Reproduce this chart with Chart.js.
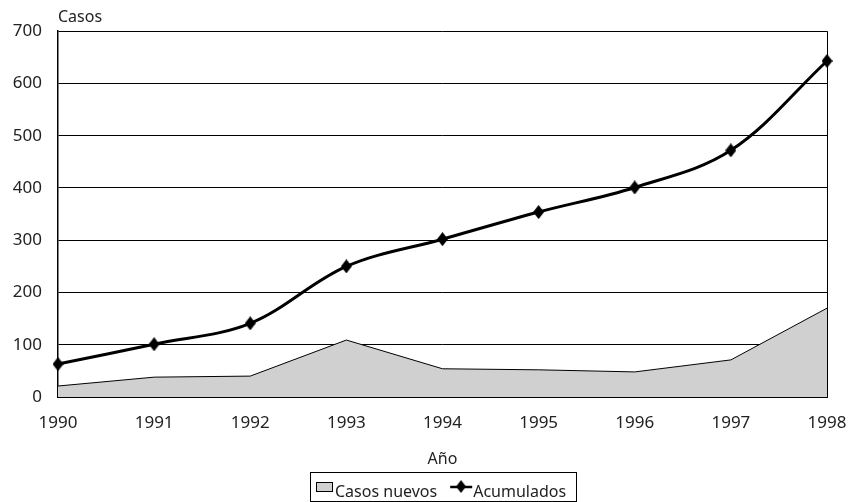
<!DOCTYPE html>
<html><head><meta charset="utf-8">
<script src="https://cdn.jsdelivr.net/npm/chart.js@4/dist/chart.umd.min.js"></script>
<style>html,body{margin:0;padding:0;background:#fff}#wrap{width:849px;height:502px}</style>
</head><body><div id="wrap"><canvas id="c" width="849" height="502"></canvas></div>
<script>
// ---- data ----
const years = ['1990','1991','1992','1993','1994','1995','1996','1997','1998'];
const casosNuevos = [21, 38, 40, 109, 54, 52, 48, 71, 170];
const acumulados = [63, 101, 141, 250, 302, 354, 401, 472, 643];
const yTickValues = [0, 100, 200, 300, 400, 500, 600, 700];
const seriesNames = ['Casos nuevos', 'Acumulados'];
const yAxisName = 'Casos';
const xAxisName = 'Año';

const FONT = '"Noto Sans", "Open Sans", sans-serif';
const TXT = '#222';

function diamond(w, h) {
  const c = document.createElement('canvas');
  c.width = w; c.height = h;
  const g = c.getContext('2d');
  g.fillStyle = '#000';
  g.beginPath();
  g.moveTo(w / 2, 0); g.lineTo(w, h / 2); g.lineTo(w / 2, h); g.lineTo(0, h / 2);
  g.closePath(); g.fill();
  return c;
}
const diamondImg = diamond(11, 14);

const boxLegend = {
  id: 'boxLegend',
  afterDraw(chart) {
    const ctx = chart.ctx, ca = chart.chartArea;
    const ds = chart.data.datasets;
    ctx.save();
    ctx.font = '16px ' + FONT;
    const w0 = ctx.measureText(ds[0].label).width;
    const w1 = ctx.measureText(ds[1].label).width;
    const padL = 6, sw = 17, g1 = 2, gap = 13, lw = 22, g2 = 1, padR = 10;
    const total = Math.round(padL + sw + g1 + w0 + gap + lw + g2 + w1 + padR);
    const x0 = Math.round((ca.left + ca.right) / 2 - total / 2);
    const top = 472, h = 29;
    ctx.strokeStyle = '#000';
    ctx.lineWidth = 1;
    ctx.strokeRect(x0 + 0.5, top + 0.5, total, h);
    let x = x0 + padL;
    ctx.fillStyle = ds[0].backgroundColor;
    ctx.fillRect(x, 482, sw, 10);
    ctx.strokeRect(x + 0.5, 482.5, sw - 1, 9);
    x += sw + g1;
    ctx.fillStyle = TXT;
    ctx.textBaseline = 'alphabetic';
    ctx.textAlign = 'left';
    ctx.fillText(ds[0].label, x, 497);
    x += w0 + gap;
    ctx.lineWidth = 2.5;
    ctx.beginPath();
    ctx.moveTo(x, 487); ctx.lineTo(x + lw, 487);
    ctx.stroke();
    ctx.drawImage(diamondImg, Math.round(x + lw / 2 - 5), 480, 10, 13);
    x += lw + g2;
    ctx.fillStyle = TXT;
    ctx.fillText(ds[1].label, x, 497);
    ctx.restore();
  }
};

new Chart(document.getElementById('c'), {
  type: 'line',
  data: {
    labels: years,
    datasets: [
      {
        label: seriesNames[0],
        data: casosNuevos,
        fill: 'origin',
        backgroundColor: '#d0d0d0',
        borderColor: '#000',
        borderWidth: 1,
        pointRadius: 0,
        tension: 0,
        order: 2
      },
      {
        label: seriesNames[1],
        data: acumulados,
        fill: false,
        borderColor: '#000',
        borderWidth: 3,
        pointStyle: diamondImg,
        pointRadius: 6,
        tension: 0.35,
        order: 1
      }
    ]
  },
  options: {
    responsive: false,
    animation: false,
    devicePixelRatio: 1,
    layout: { padding: { left: 0, right: 22, top: 0, bottom: 0 } },
    plugins: {
      legend: { display: false },
      tooltip: { enabled: false },
      title: {
        display: true,
        text: yAxisName,
        align: 'start',
        fullSize: false,
        color: TXT,
        font: { family: FONT, size: 16, weight: 'normal' },
        padding: { top: 8, bottom: 4 }
      }
    },
    scales: {
      x: {
        type: 'category',
        offset: false,
        grid: {
          drawTicks: false,
          color: (c) => (c.index === years.length - 1 ? '#000' : 'rgba(0,0,0,0)'),
          lineWidth: 1
        },
        border: { display: true, color: '#000', width: 2 },
        ticks: {
          color: TXT,
          font: { family: FONT, size: 17 },
          padding: 16,
          maxRotation: 0,
          autoSkip: false
        },
        title: {
          display: true,
          text: xAxisName,
          color: TXT,
          font: { family: FONT, size: 16 },
          padding: { top: 0, bottom: 33 }
        },
        afterFit: (s) => { s.height = 105; s.paddingLeft = 0; s.paddingRight = 0; }
      },
      y: {
        min: 0,
        max: 700,
        afterBuildTicks: (s) => { s.ticks = yTickValues.map(v => ({ value: v })); },
        grid: { drawTicks: false, color: '#000', lineWidth: 1 },
        border: { display: true, color: '#000', width: 1.5 },
        ticks: {
          color: TXT,
          font: { family: FONT, size: 17 },
          padding: 16
        },
        afterFit: (s) => { s.width = 58; s.paddingTop = 0; s.paddingBottom = 0; }
      }
    }
  },
  plugins: [boxLegend]
});
</script>
</body></html>
